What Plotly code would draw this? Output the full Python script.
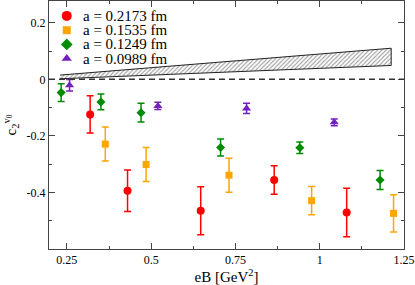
import plotly.graph_objects as go

labels = ["a = 0.2173 fm", "a = 0.1535 fm", "a = 0.1249 fm", "a = 0.0989 fm"]
colors = ["#ff0000", "#ffa500", "#008b00", "#7221bc"]
symbols = ["circle", "square", "diamond", "triangle-up"]

red_x = [0.319, 0.430, 0.647, 0.865, 1.080]
red_y = [-0.124, -0.394, -0.465, -0.356, -0.471]
red_e = [0.066, 0.073, 0.085, 0.050, 0.086]

orange_x = [0.364, 0.485, 0.731, 0.976, 1.219]
orange_y = [-0.229, -0.301, -0.339, -0.429, -0.474]
orange_e = [0.060, 0.060, 0.060, 0.050, 0.066]

green_x = [0.233, 0.351, 0.470, 0.706, 0.941, 1.179]
green_y = [-0.047, -0.080, -0.118, -0.241, -0.242, -0.356]
green_e = [0.031, 0.028, 0.033, 0.030, 0.020, 0.034]

purple_x = [0.258, 0.520, 0.783, 1.043]
purple_y = [-0.021, -0.094, -0.103, -0.152]
purple_e = [0.020, 0.013, 0.018, 0.012]

band_x = [0.230, 1.212]
band_lo = [0.002, 0.049]
band_hi = [0.015, 0.110]

x_ticks = [0.25, 0.5, 0.75, 1.0, 1.25]
x_ticktext = ["0.25", "0.5", "0.75", "1", "1.25"]
y_ticks = [-0.4, -0.2, 0.0, 0.2]
y_ticktext = ["-0.4", "-0.2", "0", "0.2"]

series = [
    (red_x, red_y, red_e),
    (orange_x, orange_y, orange_e),
    (green_x, green_y, green_e),
    (purple_x, purple_y, purple_e),
]
data_sizes = [8, 7, 7, 8]
legend_sizes = [10, 8, 9, 9]

FONT = "Liberation Serif, Times New Roman, serif"

fig = go.Figure()

# hatched band
fig.add_trace(go.Scatter(
    x=band_x + band_x[::-1], y=band_hi + band_lo[::-1],
    mode="lines", fill="toself", fillcolor="white",
    fillpattern=dict(shape="/", fgcolor="#333333", bgcolor="white", size=3, solidity=0.35),
    line=dict(color="#222222", width=1), showlegend=False, hoverinfo="skip"))

for (xs, ys, es), c, s, sz in zip(series, colors, symbols, data_sizes):
    fig.add_trace(go.Scatter(
        x=xs, y=ys, mode="markers",
        marker=dict(color=c, symbol=s, size=sz, line=dict(width=0)),
        error_y=dict(type="data", array=es, visible=True, color=c, thickness=1.5, width=3.5),
        showlegend=False))

# manual legend on overlay axes
leg_mx = 0.05
leg_tx = 0.09
leg_y = [0.94, 0.882, 0.825, 0.768]
for lab, c, s, sz, ly in zip(labels, colors, symbols, legend_sizes, leg_y):
    fig.add_trace(go.Scatter(
        x=[leg_mx], y=[ly], xaxis="x2", yaxis="y2", mode="markers",
        marker=dict(color=c, symbol=s, size=sz, line=dict(width=0)),
        showlegend=False, hoverinfo="skip"))
    fig.add_annotation(x=leg_tx, y=ly, xref="paper", yref="paper", text=lab,
                       showarrow=False, xanchor="left", yanchor="middle",
                       font=dict(family=FONT, size=15, color="black"))

fig.add_shape(type="line", xref="paper", yref="y", x0=0, x1=1, y0=0, y1=0,
              line=dict(color="#333333", width=1.5, dash="6px,4px"))

axis_common = dict(
    showgrid=False, zeroline=False, showline=True, linecolor="#444444", linewidth=1,
    mirror="allticks", ticks="inside", ticklen=6, tickwidth=1, tickcolor="#444444",
    tickfont=dict(family=FONT, size=12, color="black"), automargin=False,
)

fig.update_layout(
    width=415, height=285,
    margin=dict(l=49, r=11, t=1, b=36),
    paper_bgcolor="white", plot_bgcolor="white",
    showlegend=False,
    xaxis=dict(range=[0.197, 1.25], tickvals=x_ticks, ticktext=x_ticktext,
               minor=dict(dtick=0.125, tick0=0.25, ticks="inside", ticklen=3, tickcolor="#444444"),
               title=dict(text="eB [GeV<sup>2</sup>]", font=dict(family=FONT, size=15, color="black"), standoff=5),
               **axis_common),
    yaxis=dict(range=[-0.6, 0.277], tickvals=y_ticks, ticktext=y_ticktext,
               minor=dict(dtick=0.1, tick0=0, ticks="inside", ticklen=3, tickcolor="#444444"),
               title=dict(text="c<sub>2</sub><sup>v<sub>0</sub></sup>", font=dict(family=FONT, size=15, color="black"), standoff=6),
               **axis_common),
    xaxis2=dict(range=[0, 1], overlaying="x", visible=False),
    yaxis2=dict(range=[0, 1], overlaying="y", visible=False),
)

fig.write_html("out.html", config={"displayModeBar": False},
               post_script="document.body.style.margin='0';document.body.style.padding='0';")
